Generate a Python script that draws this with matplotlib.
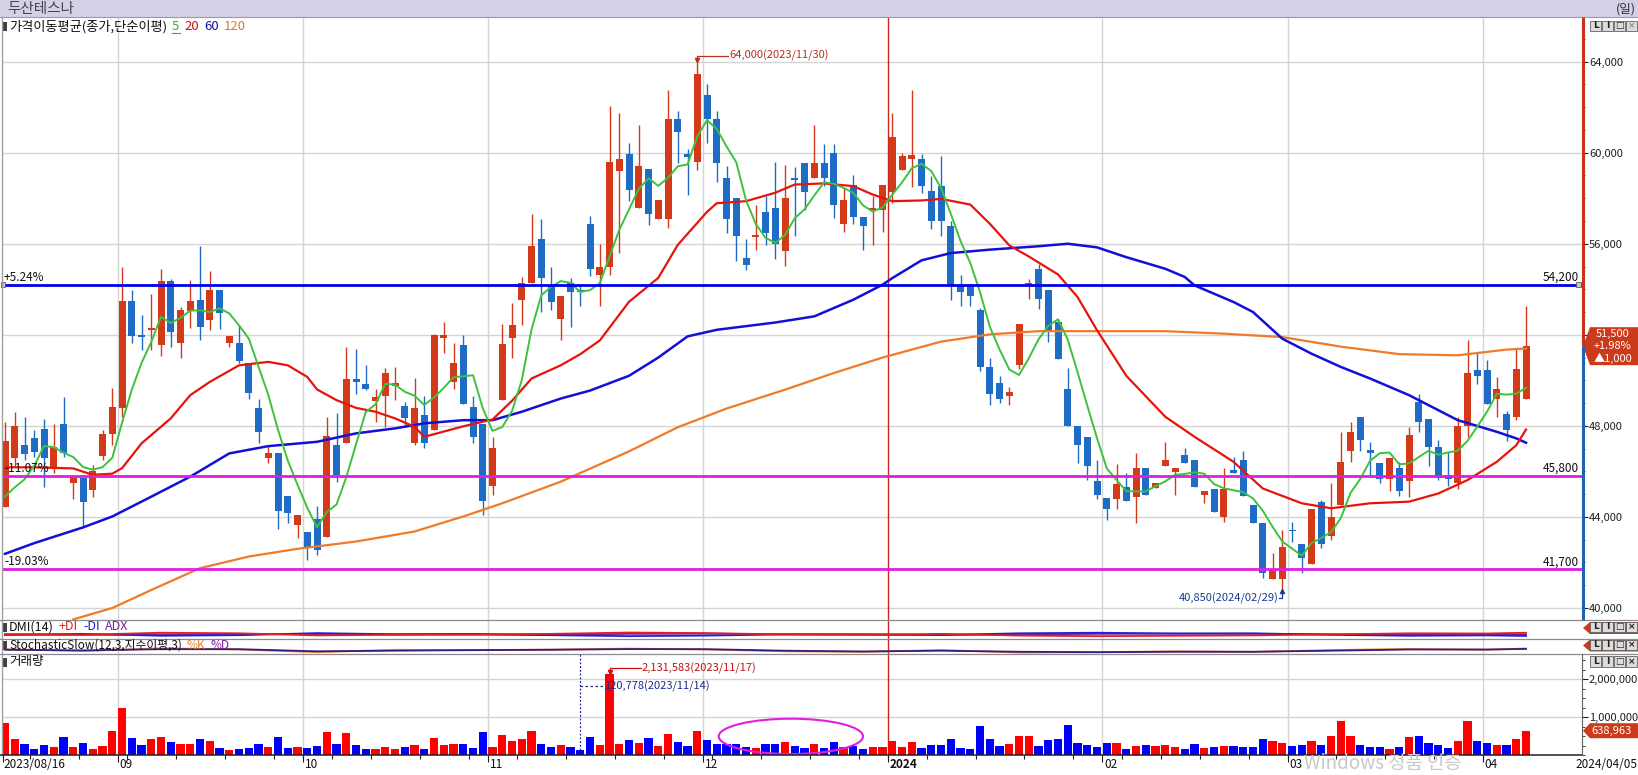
import matplotlib
matplotlib.use("Agg")
import matplotlib.pyplot as plt
from matplotlib.patches import Ellipse, Rectangle, Polygon
from matplotlib.ticker import FuncFormatter, MultipleLocator, FixedLocator
import numpy as np
import pandas as pd

plt.rcParams['font.family'] = ['Noto Sans CJK KR', 'DejaVu Sans']

# === trading days (KRX holidays removed) ===
holidays = ["2023-09-28", "2023-09-29", "2023-10-02", "2023-10-03", "2023-10-09",
            "2023-12-25", "2023-12-29", "2024-01-01", "2024-02-09", "2024-02-12",
            "2024-03-01"]
days = pd.bdate_range("2023-08-16", "2024-04-05")
days = days[~days.isin(pd.to_datetime(holidays))]

# === daily candles ===
opens = [
    44430, 46570, 47160, 47480, 47860, 46210, 48080, 45510, 45700, 45190,
    46680, 47640, 48790, 53480, 51970, 52230, 51540, 54350, 51640, 53030,
    53540, 52640, 53950, 51640, 51640, 50740, 48770, 46600, 46790, 44920,
    43650, 43320, 43900, 43140, 47160, 47230, 50080, 49830, 49100, 49320,
    49760, 48870, 47230, 48470, 47840, 51880, 49930, 51570, 48840, 48080,
    45360, 49130, 51880, 53540, 54270, 56190, 54150, 52700, 54270, 53960,
    56870, 54640, 54960, 59190, 59920, 57580, 59290, 57090, 57090, 61490,
    59920, 59580, 62520, 61490, 58900, 58020, 55370, 56300, 57380, 57580,
    55670, 58900, 59530, 58900, 59530, 60000, 56870, 58570, 57180, 57500,
    57470, 58260, 59220, 59700, 59700, 58310, 58530, 56800, 54200, 54200,
    53100, 50600, 49900, 49300, 50690, 54200, 54890, 53950, 52550, 49640,
    47990, 47490, 45590, 44840, 44770, 45330, 44860, 46170, 45250, 46230,
    45980, 46740, 46500, 44960, 45210, 43980, 46060, 46500, 44520, 43750,
    41260, 41260, 43400, 42810, 41930, 44670, 43160, 44520, 46900, 48370,
    46960, 46380, 45650, 46170, 45590, 49050, 48320, 47050, 45840, 45470,
    47990, 50470, 50470, 49160, 48510, 48370, 49160]
highs = [
    48180, 48590, 48400, 47800, 48300, 48080, 49280, 45800, 45700, 46280,
    47840, 49670, 55000, 53950, 52860, 53800, 54870, 54460, 53220, 54390,
    55880, 54800, 53950, 51960, 52420, 50740, 49200, 47160, 46790, 44920,
    44090, 43320, 44480, 48400, 48580, 51470, 51390, 50660, 49600, 50520,
    50590, 49060, 50110, 49300, 52050, 52560, 51640, 51980, 49320, 48080,
    47520, 52460, 53400, 54540, 57300, 57100, 55000, 53720, 54490, 54200,
    57210, 56000, 62050, 61760, 60410, 61200, 59290, 57900, 62750, 61830,
    60140, 64000, 63000, 61830, 59410, 58020, 56210, 57720, 58090, 59580,
    59480, 59380, 59530, 61200, 60360, 60360, 58460, 59000, 57180, 58090,
    58600, 61760, 60000, 62750, 59920, 58970, 59850, 56990, 54640, 54200,
    53170, 51000, 50200, 49700, 52480, 54450, 55130, 53950, 52700, 50520,
    47990, 47490, 46500, 44840, 46320, 45910, 46820, 46170, 45500, 47300,
    46130, 47010, 46500, 45150, 45210, 46130, 46640, 46890, 44520, 43750,
    42400, 43430, 43790, 42810, 44330, 44740, 45500, 47740, 48180, 48400,
    47300, 46380, 46570, 46400, 47960, 49420, 48320, 47400, 46860, 48400,
    51760, 51250, 50910, 50150, 48660, 51440, 53250]
lows = [
    44430, 46180, 46500, 46650, 45330, 45920, 46650, 44780, 43500, 44890,
    46500, 47160, 48400, 51640, 51320, 51320, 51060, 51470, 50960, 52320,
    51760, 52200, 52270, 51470, 50740, 49200, 47230, 46380, 43460, 43720,
    43070, 42120, 42340, 43140, 45550, 47230, 49420, 49570, 48180, 47960,
    49130, 48030, 47160, 47040, 47820, 51180, 49640, 48940, 47230, 44090,
    44970, 49130, 50960, 52420, 54270, 53000, 53100, 51780, 52340, 53250,
    54570, 53250, 54640, 55590, 57870, 57580, 56840, 57090, 56690, 59530,
    58120, 59230, 60440, 58700, 56470, 55230, 54860, 55710, 55960, 55330,
    55010, 56330, 57500, 58900, 58530, 57140, 56500, 56870, 55710, 55960,
    56500, 57800, 59220, 58500, 58210, 56650, 56330, 53540, 53250, 53250,
    50400, 48900, 49000, 48900, 50500, 53570, 53130, 51700, 50950, 47990,
    46380, 45620, 44800, 43860, 44330, 44710, 43750, 44960, 45250, 46230,
    44960, 46380, 45330, 44600, 44230, 43790, 45940, 44920, 43750, 41300,
    41260, 40850, 42910, 41520, 41930, 42620, 42990, 44520, 46420, 46900,
    45760, 45470, 45150, 44920, 44860, 47740, 46230, 45620, 45360, 45210,
    47490, 49860, 48950, 48400, 47340, 48250, 49160]
closes = [
    47350, 47990, 46760, 46870, 46600, 47090, 46790, 45800, 44670, 46030,
    47640, 48840, 53480, 51940, 51900, 52270, 54350, 52130, 53080, 53480,
    52340, 53950, 52970, 51960, 50850, 49450, 47740, 46820, 44240, 44160,
    44090, 42700, 42530, 47570, 45840, 50080, 49930, 49640, 49250, 50340,
    49900, 48360, 48770, 47230, 51980, 51980, 50740, 48940, 47490, 44720,
    47010, 51580, 52450, 54270, 55880, 54480, 53450, 53720, 53860, 53900,
    54890, 54960, 59580, 59700, 58380, 59410, 57310, 57900, 61490, 60900,
    59820, 63440, 61490, 59530, 57090, 56330, 55080, 56330, 56470, 56000,
    58020, 58790, 58260, 59530, 58900, 57690, 57900, 57160, 56770, 57550,
    58600, 60700, 59850, 59880, 58530, 56990, 56990, 54200, 53900, 53690,
    50600, 49400, 49200, 49500, 52480, 54260, 53570, 52150, 50950, 47990,
    47150, 46230, 44960, 44330, 45440, 44710, 46170, 44960, 45470, 46500,
    46130, 46380, 45330, 45150, 44230, 45210, 45940, 44920, 43750, 41550,
    41700, 42690, 43370, 42180, 44330, 42810, 43980, 46420, 47740, 47400,
    46790, 45650, 46570, 45150, 47590, 48180, 47050, 45690, 45650, 47990,
    50330, 50180, 48950, 49600, 47810, 50500, 51500]
volumes = [
    843000, 417000, 287000, 157000, 261000, 209000, 478000, 209000, 313000, 157000,
    235000, 635000, 1235000, 443000, 261000, 417000, 470000, 339000, 287000, 287000,
    417000, 365000, 183000, 130000, 157000, 183000, 287000, 209000, 478000, 183000,
    209000, 183000, 235000, 600000, 287000, 574000, 261000, 157000, 157000, 209000,
    157000, 209000, 261000, 157000, 443000, 261000, 287000, 287000, 183000, 600000,
    209000, 522000, 365000, 417000, 626000, 287000, 209000, 261000, 209000, 120778,
    470000, 261000, 2131583, 300000, 400000, 320000, 450000, 250000, 550000, 350000,
    250000, 620000, 400000, 300000, 280000, 300000, 220000, 180000, 300000, 280000,
    330000, 250000, 183000, 296000, 183000, 339000, 209000, 235000, 157000, 209000,
    209000, 365000, 209000, 339000, 183000, 261000, 261000, 417000, 183000, 157000,
    757000, 417000, 235000, 287000, 496000, 496000, 235000, 391000, 417000, 783000,
    313000, 261000, 209000, 313000, 313000, 157000, 235000, 261000, 235000, 261000,
    209000, 157000, 287000, 183000, 209000, 235000, 235000, 209000, 209000, 417000,
    365000, 313000, 243000, 261000, 365000, 261000, 496000, 896000, 496000, 261000,
    209000, 209000, 157000, 209000, 478000, 504000, 322000, 261000, 191000, 365000,
    887000, 365000, 322000, 261000, 261000, 417000, 638963]

# === moving averages ===
ma5_start = [44900, 45300, 45650, 46250]
ma20_idx = [0, 3, 7, 9, 11, 12, 14, 17, 19, 21, 24, 27, 29, 31, 32, 34, 36, 38, 40, 42,
            43, 45, 47, 50, 52, 54, 57, 59, 61, 64, 67, 69, 72, 73, 76, 79, 81, 84, 87, 89,
            91, 94, 96, 99, 101, 103, 105, 108, 110, 112, 115, 119, 122, 126, 129, 133, 136, 140, 144, 147,
            150, 153, 155, 156]
ma20_val = [46180, 46180, 46130, 45850, 45900, 46140, 47230, 48330, 49350, 49930,
            50660, 50810, 50660, 50150, 49600, 49130, 48790, 48620, 48330, 47960,
            47520, 47750, 47980, 48280, 49100, 50080, 50660, 51150, 51750, 53450,
            54500, 55950, 57400, 57780, 57870, 58240, 58600, 58650, 58530, 58160,
            57870, 57900, 57970, 57720, 56880, 55930, 55440, 54650, 53660, 52200,
            50200, 48400, 47520, 46420, 45250, 44600, 44380, 44600, 44670, 45030,
            45620, 46420, 47150, 47840]
ma60_idx = [0, 3, 8, 11, 15, 19, 23, 27, 32, 36, 40, 43, 47, 50, 53, 57, 60, 64, 67, 70,
            73, 79, 83, 87, 90, 91, 94, 97, 101, 106, 109, 112, 115, 119, 121, 122, 126, 128, 131, 134,
            137, 140, 144, 146, 149, 153, 155, 156]
ma60_val = [42380, 42850, 43540, 44020, 44890, 45770, 46790, 47110, 47300, 47670,
            47890, 48110, 48250, 48250, 48620, 49200, 49550, 50200, 51000, 51930,
            52220, 52540, 52810, 53540, 54200, 54490, 55270, 55590, 55740, 55890,
            56000, 55840, 55410, 54900, 54540, 54170, 53440, 53000, 51830, 51170,
            50590, 50080, 49350, 48910, 48250, 47740, 47450, 47260]
ma120_idx = [7, 11, 15, 20, 25, 30, 36, 42, 47, 51, 57, 64, 69, 74, 80, 85, 90, 96, 101, 106,
             112, 119, 125, 131, 137, 143, 149, 154, 156]
ma120_val = [39500, 40000, 40790, 41750, 42260, 42600, 42920, 43360, 44020, 44600,
             45550, 46880, 47940, 48760, 49590, 50320, 51000, 51700, 52020, 52160,
             52160, 52160, 52050, 51900, 51480, 51150, 51100, 51350, 51400]

# === indicator panels (squeezed lines, panel scale 0-100) ===
ind_idx = [0, 8, 16, 24, 32, 40, 48, 56, 64, 72, 80, 88, 96, 104, 112, 120, 128, 136, 144, 152, 156]
plus_di = [26, 22, 33, 30, 19, 22, 24, 27, 34, 31, 24, 22, 27, 18, 15, 17, 19, 24, 30, 29, 33]
minus_di = [22, 27, 17, 20, 31, 25, 27, 20, 15, 18, 24, 25, 21, 30, 33, 29, 30, 22, 17, 19, 16]
adx = [23, 22, 24, 25, 26, 24, 23, 22, 27, 28, 25, 23, 22, 24, 27, 28, 27, 25, 23, 24, 25]
stoch_k = [32, 20, 38, 30, 12, 28, 25, 30, 36, 30, 18, 14, 26, 10, 12, 18, 14, 26, 34, 28, 37]
stoch_d = [28, 24, 32, 32, 18, 22, 26, 28, 33, 32, 22, 17, 22, 15, 12, 15, 15, 22, 30, 30, 34]

# === horizontal price lines ===
level_prices = [54200, 45800, 41700]
level_pcts = ["+5.24%", "-11.07%", "-19.03%"]
last_price, last_pct, last_chg = 51500, "+1.98%", "▲1,000"

# ---------------------------------------------------------------
W, H = 1638, 775
RED_C, BLUE_C = "#d4391a", "#1f6cc6"
MAG = "#e01ee0"

n = len(closes)
idx = np.arange(n)
o, h, l, c = (np.array(a, dtype=float) for a in (opens, highs, lows, closes))
up = c >= o

ma5 = pd.Series(c).rolling(5).mean().to_numpy()
ma5[:4] = ma5_start

month_start = [i for i in range(1, n) if days[i].month != days[i - 1].month]
week_start = [i for i in range(1, n)
              if days[i].isocalendar()[1] != days[i - 1].isocalendar()[1]]

fig = plt.figure(figsize=(W / 100, H / 100), dpi=100)


def rect(x0, y0, x1, y1):
    return [x0 / W, 1 - y1 / H, (x1 - x0) / W, (y1 - y0) / H]


X0, X1 = 2, 1582
TOP, MAIN_B, DMI_B, STO_B, VOL_B = 17, 620, 639, 654, 755
XLIM = (-0.31, 161.74)
P_TOP, P_BOT = 65959, 39473
V_TOP = 2.658e6

ax = fig.add_axes(rect(X0, TOP, X1, MAIN_B))
ax_dmi = fig.add_axes(rect(X0, MAIN_B, X1, DMI_B))
ax_sto = fig.add_axes(rect(X0, DMI_B, X1, STO_B))
ax_vol = fig.add_axes(rect(X0, STO_B, X1, VOL_B))
for a in (ax, ax_dmi, ax_sto, ax_vol):
    a.set_xlim(*XLIM)
    for s in a.spines.values():
        s.set_visible(False)
    a.tick_params(axis='x', which='both', bottom=False, labelbottom=False)
    for m in month_start:
        if days[m].month == 1:
            a.axvline(m - 0.45, color="#c8281e", lw=1, zorder=1.5)
        else:
            a.axvline(m - 0.45, color="#d4d4d4", lw=1, zorder=0.5)
ax.set_ylim(P_BOT, P_TOP)
ax_vol.set_ylim(0, V_TOP)
ax_dmi.set_ylim(0, 100)
ax_sto.set_ylim(0, 100)
ax_dmi.set_yticks([])
ax_sto.set_yticks([])


def py(p):
    return TOP + (P_TOP - p) / (P_TOP - P_BOT) * (MAIN_B - TOP)


def vy(v):
    return VOL_B - v / V_TOP * (VOL_B - STO_B)


def xp(i):
    return X0 + (i - XLIM[0]) / (XLIM[1] - XLIM[0]) * (X1 - X0)


# --- price panel ---
cols = np.where(up, RED_C, BLUE_C)
ax.vlines(idx, l, h, colors=cols, lw=1, zorder=3)
ax.bar(idx, np.maximum(np.abs(c - o), 70), bottom=np.minimum(o, c), width=0.72,
       color=cols, lw=0, zorder=3)

ax.plot(ma120_idx, ma120_val, color="#f07a2a", lw=1.6, zorder=4)
ax.plot(ma60_idx, ma60_val, color="#1010d8", lw=1.8, zorder=4)
ax.plot(ma20_idx, ma20_val, color="#e8140c", lw=1.6, zorder=4)
ax.plot(idx, ma5, color="#3cc23c", lw=1.4, zorder=4)

for p, col in zip(level_prices, ["#0000e6", MAG, MAG]):
    ax.axhline(p, color=col, lw=2, zorder=5)

# the 52,000 label sits under the current-price tag, so only its tick is kept
ax.yaxis.set_major_locator(FixedLocator(range(40000, 64001, 4000)))
ax.yaxis.set_minor_locator(MultipleLocator(1000))
ax.yaxis.set_major_formatter(FuncFormatter(lambda v, _: "" if int(v) == 52000 else f"{int(v):,}"))
ax.tick_params(axis='y', which='both', left=False, labelleft=False, right=True,
               labelright=True, direction='out', labelsize=8, pad=1, colors="#202020")
ax.tick_params(axis='y', which='major', length=4)
ax.tick_params(axis='y', which='minor', length=2.5)
ax.grid(axis='y', which='major', color="#d4d4d4", lw=1, zorder=0.5)
ax.set_axisbelow(True)

# max / min annotations
imax = int(np.argmax(h))
imin = int(np.argmin(l))
ax.plot([imax, imax, imax + 3.2], [h[imax] + 80, 64260, 64260], color="#b8301e", lw=0.9, zorder=6)
ax.plot(imax, h[imax] + 90, marker='v', ms=3, color="#b8301e", zorder=6)
ax.text(imax + 3.3, 64260, f"{int(h[imax]):,}({days[imax]:%Y/%m/%d})", color="#b8301e",
        fontsize=8, va='center', ha='left', zorder=6)
ax.plot([imin, imin, imin - 0.3], [l[imin] - 80, 40435, 40435], color="#1a3c8c", lw=0.9, zorder=6)
ax.plot(imin, l[imin] - 90, marker='^', ms=3, color="#1a3c8c", zorder=6)
ax.text(imin - 0.4, 40435, f"{int(l[imin]):,}({days[imin]:%Y/%m/%d})", color="#1a3c8c",
        fontsize=8, va='center', ha='right', zorder=6)

# --- DMI / stochastic panels ---
ax_dmi.plot(ind_idx, adx, color="#7a1fa0", lw=1.3)
ax_dmi.plot(ind_idx, minus_di, color="#2020d8", lw=1.3)
ax_dmi.plot(ind_idx, plus_di, color="#e02020", lw=1.3)
ax_sto.plot(ind_idx, stoch_k, color="#e8843c", lw=1.3)
ax_sto.plot(ind_idx, stoch_d, color="#3a1a80", lw=1.3)

# --- volume panel ---
vcols = np.where(up, "#ff0000", "#0000ff")
ax_vol.bar(idx, volumes, width=0.84, color=vcols, lw=0, zorder=3)
ax_vol.yaxis.set_major_locator(FixedLocator([1e6, 2e6]))
ax_vol.yaxis.set_minor_locator(MultipleLocator(2.5e5))
ax_vol.yaxis.set_major_formatter(FuncFormatter(lambda v, _: f"{int(v):,}"))
ax_vol.tick_params(axis='y', which='both', left=False, labelleft=False, right=True,
                   labelright=True, direction='out', labelsize=8, pad=1, colors="#202020")
ax_vol.tick_params(axis='y', which='major', length=4)
ax_vol.tick_params(axis='y', which='minor', length=2.5)
ax_vol.grid(axis='y', which='major', color="#d4d4d4", lw=1, zorder=0.5)
ax_vol.set_axisbelow(True)

vmax = int(np.argmax(volumes))
vmin = int(np.argmin(volumes))
y_ann = 2.29e6
ax_vol.plot([vmax, vmax, vmax + 3.2], [volumes[vmax] + 3e4, y_ann, y_ann], color="#d01010", lw=0.9, zorder=6)
ax_vol.plot(vmax, volumes[vmax] + 4e4, marker='v', ms=3, color="#d01010", zorder=6)
ax_vol.text(vmax + 3.3, y_ann, f"{volumes[vmax]:,}({days[vmax]:%Y/%m/%d})", color="#c01010",
            fontsize=8, va='center', ha='left', zorder=6)
y_ann2 = 1.816e6
ax_vol.plot([vmin, vmin], [volumes[vmin], V_TOP], color="#1a2a8c", lw=0.9, ls=(0, (1.5, 1.5)), zorder=6)
ax_vol.plot([vmin, vmin + 2.4], [y_ann2, y_ann2], color="#1a2a8c", lw=0.9, ls=(0, (2, 2)), zorder=6)
ax_vol.text(vmin + 2.4, y_ann2, f"{volumes[vmin]:,}({days[vmin]:%Y/%m/%d})", color="#1a2a8c",
            fontsize=8, va='center', ha='left', zorder=6)
ax_vol.add_patch(Ellipse((80.6, 4.9e5), 14.8, 9.3e5, fill=False, edgecolor=MAG, lw=1.5, zorder=6))

# --- overlay in pixel coordinates ---
ov = fig.add_axes([0, 0, 1, 1], zorder=10)
ov.set_xlim(0, W)
ov.set_ylim(H, 0)
ov.set_axis_off()
renderer = fig.canvas.get_renderer()

# title bar
ov.add_patch(Rectangle((0, 0), W, 17, facecolor="#d3d0e8", edgecolor="none"))
ov.plot([0, W], [17, 17], color="#9a98b0", lw=0.8)
ov.text(7, 9, "두산테스나", fontsize=10.5, color="#454545", va='center', ha='left')
ov.text(1636, 9, "(일)", fontsize=9, color="#303030", va='center', ha='right')

# frame and separators
ov.plot([1.5, 1.5], [17, VOL_B], color="#a0a0a0", lw=1)
for yy in (MAIN_B, DMI_B, STO_B):
    ov.plot([0, W], [yy, yy], color="#8c8c8c", lw=0.9)
ov.plot([0, X1], [VOL_B, VOL_B], color="#202020", lw=1.1)
y_cur = py(last_price)
ov.plot([X1 + 0.5, X1 + 0.5], [TOP, y_cur], color="#c8321a", lw=2.2, solid_capstyle='butt')
ov.plot([X1 + 0.5, X1 + 0.5], [y_cur, MAIN_B], color="#1f62b8", lw=2.2, solid_capstyle='butt')
ov.plot([X1, X1], [STO_B, VOL_B], color="#606060", lw=0.8)


# panel legends, each word placed right after the previous one
def legend_row(y, parts, size, gap=5):
    ov.add_patch(Rectangle((3, y - 4.5), 4, 9, facecolor="#404040", edgecolor="none"))
    x = 9
    out = []
    for txt, col in parts:
        t = ov.text(x, y, txt, fontsize=size, color=col, va='center', ha='left')
        w = t.get_window_extent(renderer=renderer).width
        out.append((x, w))
        x += w + gap
    return out


pos = legend_row(26.5, [("가격이동평균(종가,단순이평)", "#101010"), ("5", "#30b030"),
                        ("20", "#d01010"), ("60", "#1010b0"), ("120", "#e07828")], 9.5)
ov.plot([pos[1][0], pos[1][0] + pos[1][1] + 1], [33, 33], color="#30b030", lw=0.8)
legend_row(627, [("DMI(14)", "#101010"), ("+DI", "#e02020"), ("-DI", "#2020d8"),
                 ("ADX", "#7a1fa0")], 9)
legend_row(645.5, [("StochasticSlow(12,3,지수이평,3)", "#101010"), ("%K", "#e8843c"),
                   ("%D", "#7a1fa0")], 8.5)
legend_row(662, [("거래량", "#101010")], 9)

# level labels
for p, pct in zip(level_prices, level_pcts):
    ov.text(4, py(p) - 1, pct, fontsize=8.5, color="#101010", ha='left', va='bottom')
    ov.text(1579, py(p) - 1, f"{p:,}", fontsize=8.5, color="#101010", ha='right', va='bottom')
for xx in (0.5, 1576):
    ov.add_patch(Rectangle((xx, py(level_prices[0]) - 2.5), 4.5, 5, facecolor="#c8c8c8",
                           edgecolor="#404040", lw=0.5))


# right tags
def tag(yc, hh, color):
    ov.add_patch(Polygon([(1583, yc), (1590, yc - hh / 2), (1638, yc - hh / 2),
                          (1638, yc + hh / 2), (1590, yc + hh / 2)], closed=True,
                         facecolor=color, edgecolor="none"))


tag(y_cur, 38, "#cc3a1c")
ov.text(1613, y_cur - 12, f"{last_price:,}", fontsize=8, color="white", ha='center', va='center')
ov.text(1613, y_cur, last_pct, fontsize=8, color="white", ha='center', va='center')
ov.text(1613, y_cur + 12, last_chg, fontsize=8, color="white", ha='center', va='center')
tag(vy(volumes[-1]), 15, "#cc3a1c")
ov.text(1612, vy(volumes[-1]), f"{volumes[-1]:,}", fontsize=8, color="white", ha='center', va='center')
tag(628, 12, "#cc3a1c")
tag(645.5, 12, "#cc3a1c")


# panel buttons
def buttons(y0):
    for k, g in enumerate(["L", "I", "□", "×"]):
        x = 1590 + k * 12
        ov.add_patch(Rectangle((x, y0), 11, 10.5, facecolor="#dcdcdc", edgecolor="#606060", lw=0.6))
        ov.text(x + 5.5, y0 + 5.3, g, ha='center', va='center', fontsize=6.5,
                fontweight='bold', color="#202020" if k < 3 or y0 > 100 else "#909090",
                family=['DejaVu Sans'])


for y0 in (20.5, 621.5, 639.5, 656):
    buttons(y0)

# x axis ticks and labels
ov.vlines([xp(w - 0.45) for w in week_start], VOL_B, VOL_B + 4, color="#202020", lw=0.8)
ov.vlines([xp(m - 0.45) for m in month_start] + [2.5], VOL_B, VOL_B + 7, color="#202020", lw=0.8)
ov.text(3, 765, f"{days[0]:%Y/%m/%d}", fontsize=8.5, color="#101010", ha='left', va='center')
for m in month_start:
    lab = str(days[m].year) if days[m].month == 1 else f"{days[m].month:02d}"
    ov.text(xp(m - 0.45) + 2, 765, lab, fontsize=8.5, color="#101010", ha='left', va='center',
            fontweight='bold' if days[m].month == 1 else 'normal')
ov.text(1637, 765, f"{days[-1]:%Y/%m/%d}", fontsize=8.5, color="#101010", ha='right', va='center')
ov.text(1304, 764, "Windows 정품 인증", fontsize=13.5, color="#c8c8c8", ha='left', va='center')

fig.savefig("out.png", dpi=100)
